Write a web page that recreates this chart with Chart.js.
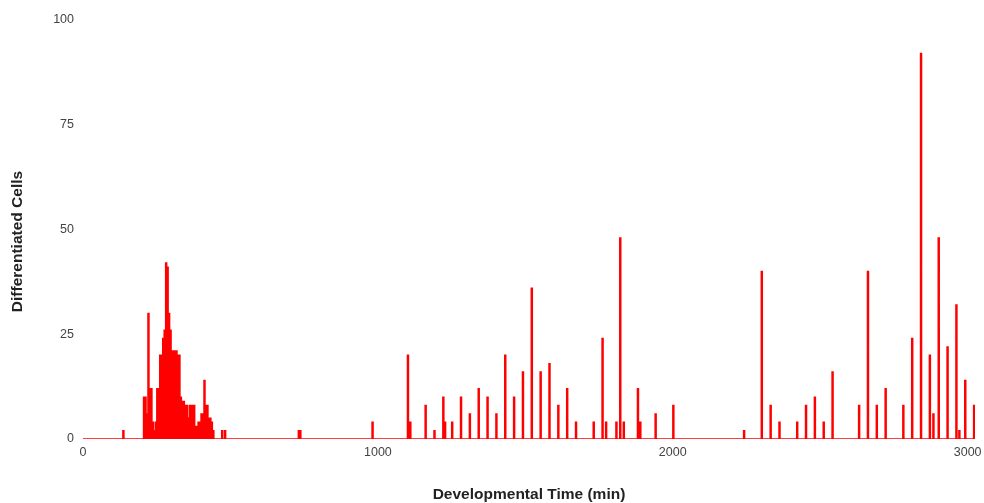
<!DOCTYPE html>
<html>
<head>
<meta charset="utf-8">
<script src="https://cdn.jsdelivr.net/npm/chart.js@4.4.1/dist/chart.umd.min.js"></script>
<style>
  html, body { margin: 0; padding: 0; background: #fff; }
  #cellsChart { display: block; }
</style>
</head>
<body>
<canvas id="cellsChart" width="984" height="503"></canvas>
<script>
// minute of each differentiation event and number of cells at that minute
const eventMinutes = [
    135,
    205, 210, 215, 220, 225, 230, 235, 240, 245, 250, 255, 260, 265, 270, 275,
    280, 285, 290, 295, 300, 305, 310, 315, 320, 325, 330, 335, 340, 345, 350,
    355, 360, 365, 370, 375, 380, 385, 390, 395, 400, 405, 410, 415, 420, 425,
    430, 435, 440,
    470, 480, 730, 735, 980,
    1100, 1108, 1160, 1190, 1220, 1226, 1250, 1280, 1310, 1340, 1370, 1400, 1430,
    1460, 1490, 1520, 1550, 1580, 1610, 1640, 1670, 1730, 1760, 1772, 1807, 1820,
    1832, 1880, 1888, 1940, 2000,
    2240, 2300, 2330, 2360, 2420, 2450, 2480, 2510, 2540, 2630, 2660, 2690, 2720,
    2780, 2810, 2840, 2870, 2882, 2900, 2930, 2960, 2970, 2990, 3020
];
const eventCells = [
    2,
    10, 10, 6, 30, 12, 12, 4, 2, 4, 12, 12, 20, 20, 24, 26,
    42, 41, 30, 26, 21, 21, 21, 21, 20, 20, 10, 9, 9, 8, 8,
    5, 8, 8, 8, 8, 3, 3, 4, 4, 6, 6, 14, 8, 8, 5,
    5, 4, 2,
    2, 2, 2, 2, 4,
    20, 4, 8, 2, 10, 4, 4, 10, 6, 12, 10, 6, 20,
    10, 16, 36, 16, 18, 8, 12, 4, 4, 24, 4, 4, 48,
    4, 12, 4, 6, 8,
    2, 40, 8, 4, 4, 8, 10, 4, 16, 8, 40, 8, 12,
    8, 24, 92, 20, 6, 48, 22, 32, 2, 14, 8
];
const xTicks = [0, 1000, 2000, 3000];
const yTicks = [0, 25, 50, 75, 100];
const xMax = 3025;
const spikeWidth = 4; // minutes each count is held before dropping back to 0

function buildPoints() {
    const pts = [{ x: 0, y: 0 }];
    eventMinutes.forEach((t, i) => {
        pts.push({ x: t, y: eventCells[i] });
        pts.push({ x: t + spikeWidth, y: 0 });
    });
    pts.push({ x: xMax, y: 0 });
    return pts;
}

const fontFamily = 'Liberation Sans, Arial, sans-serif';
const tickFont = { family: fontFamily, size: 12.5 };
const titleFont = { family: fontFamily, size: 15.5, weight: 'bold' };

// y title sits a bit below the middle of the plot, so draw it by hand
const yTitlePlugin = {
    id: 'yTitle',
    afterDraw(chart) {
        const ctx = chart.ctx;
        const area = chart.chartArea;
        ctx.save();
        ctx.translate(18, (area.top + area.bottom) / 2 + 12);
        ctx.rotate(-Math.PI / 2);
        ctx.font = 'bold ' + titleFont.size + 'px ' + fontFamily;
        ctx.fillStyle = '#222';
        ctx.textAlign = 'center';
        ctx.textBaseline = 'middle';
        ctx.fillText('Differentiated Cells', 0, 0);
        ctx.restore();
    }
};

new Chart(document.getElementById('cellsChart').getContext('2d'), {
    type: 'line',
    data: {
        datasets: [{
            data: buildPoints(),
            borderColor: '#ff0000',
            borderWidth: 1.3,
            pointRadius: 0,
            stepped: true,
            fill: false
        }]
    },
    options: {
        responsive: false,
        animation: false,
        layout: { padding: { top: 20, right: 9, left: 0, bottom: 0 } },
        plugins: { legend: { display: false }, tooltip: { enabled: false } },
        scales: {
            x: {
                type: 'linear',
                min: 0,
                max: xMax,
                afterBuildTicks: s => { s.ticks = xTicks.map(v => ({ value: v })); },
                ticks: { font: tickFont, color: '#444', padding: 6, maxRotation: 0, callback: v => String(v) },
                grid: { display: false, drawTicks: false },
                border: { display: false },
                title: { display: true, text: 'Developmental Time (min)', font: titleFont, color: '#222', padding: { top: 0, bottom: -1 } },
                afterFit: s => { s.height = 64; s.paddingLeft = 0; s.paddingRight = 0; }
            },
            y: {
                type: 'linear',
                min: 0,
                max: 100,
                afterBuildTicks: s => { s.ticks = yTicks.map(v => ({ value: v })); },
                ticks: { font: tickFont, color: '#444', padding: 9, callback: v => String(v) },
                grid: { display: false, drawTicks: false },
                border: { display: false },
                title: { display: false },
                afterFit: s => { s.width = 83; }
            }
        }
    },
    plugins: [yTitlePlugin]
});
</script>
</body>
</html>
